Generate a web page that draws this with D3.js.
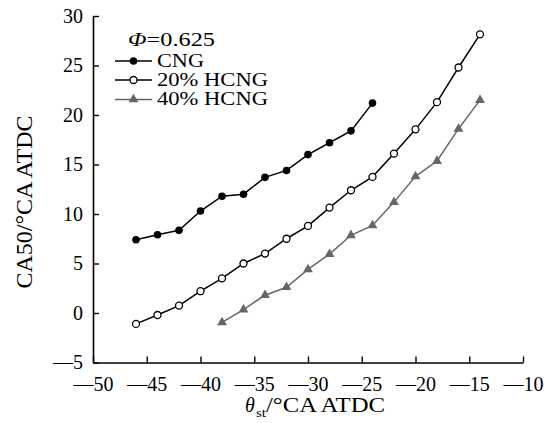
<!DOCTYPE html>
<html><head><meta charset="utf-8">
<script src="https://cdn.jsdelivr.net/npm/d3@7"></script>
<style>body{margin:0;background:#fff}svg{display:block}text{font-family:"Liberation Serif","Times New Roman",serif;fill:#000}</style>
</head><body>
<svg id="c" width="549" height="423"></svg>
<script>
const xCNG = [-46,-44,-42,-40,-38,-36,-34,-32,-30,-28,-26,-24];
const cng  = [7.4,7.9,8.35,10.3,11.8,12.0,13.7,14.4,16.0,17.2,18.4,21.2];
const xH20 = [-46,-44,-42,-40,-38,-36,-34,-32,-30,-28,-26,-24,-22,-20,-18,-16,-14];
const h20  = [-1.1,-0.2,0.75,2.2,3.5,5.0,6.0,7.5,8.8,10.65,12.4,13.75,16.1,18.55,21.3,24.8,28.15];
const xH40 = [-38,-36,-34,-32,-30,-28,-26,-24,-22,-20,-18,-16,-14];
const h40  = [-0.95,0.35,1.8,2.6,4.4,5.95,7.85,8.85,11.2,13.8,15.35,18.6,21.5];
const xTicks = [-50,-45,-40,-35,-30,-25,-20,-15,-10];
const yTicks = [-5,0,5,10,15,20,25,30];
const seriesNames = ["CNG","20% HCNG","40% HCNG"];
const legendTitle = "0.625";

const svg = d3.select("#c");
const x = d3.scaleLinear().domain([-50,-10]).range([93,523]);
const y = d3.scaleLinear().domain([-5,30]).range([362.5,16]);
const fmt = v => v < 0 ? "\u2014" + Math.abs(v) : String(v);

const gx = svg.append("g").attr("transform","translate(0,362.5)")
  .call(d3.axisBottom(x).tickValues(xTicks).tickFormat(fmt).tickSizeInner(-6).tickSizeOuter(0).tickPadding(14));
const gy = svg.append("g").attr("transform","translate(93,0)")
  .call(d3.axisLeft(y).tickValues(yTicks).tickFormat(fmt).tickSizeInner(-6).tickSizeOuter(0).tickPadding(10));
[gx,gy].forEach(g=>{
  g.selectAll("path.domain").attr("stroke","#000").attr("stroke-width",1.6);
  g.selectAll("line").attr("stroke","#000").attr("stroke-width",1.4);
  g.selectAll("text").attr("font-family","Liberation Serif").attr("font-size",20).attr("fill","#000");
});

const line = d3.line().x(d=>x(d[0])).y(d=>y(d[1]));
const s1 = xCNG.map((v,i)=>[v,cng[i]]);
const s2 = xH20.map((v,i)=>[v,h20[i]]);
const s3 = xH40.map((v,i)=>[v,h40[i]]);
const gray = "#666";

svg.append("path").datum(s3).attr("d",line).attr("fill","none").attr("stroke",gray).attr("stroke-width",1.5);
svg.append("path").datum(s2).attr("d",line).attr("fill","none").attr("stroke","#000").attr("stroke-width",1.5);
svg.append("path").datum(s1).attr("d",line).attr("fill","none").attr("stroke","#000").attr("stroke-width",1.5);

const tri = d3.symbol().type(d3.symbolTriangle).size(42);
svg.selectAll(".t").data(s3).join("path").attr("d",tri())
  .attr("transform",d=>`translate(${x(d[0])},${y(d[1])})`).attr("fill",gray);
svg.selectAll(".o").data(s2).join("circle").attr("cx",d=>x(d[0])).attr("cy",d=>y(d[1]))
  .attr("r",3.5).attr("fill","#fff").attr("stroke","#000").attr("stroke-width",1.3);
svg.selectAll(".f").data(s1).join("circle").attr("cx",d=>x(d[0])).attr("cy",d=>y(d[1]))
  .attr("r",3.8).attr("fill","#000");

// legend
const lg = svg.append("g");
const t0 = lg.append("text").attr("x",128).attr("y",45.5).attr("font-size",19);
t0.append("tspan").attr("font-style","italic").text("\u03A6");
t0.append("tspan").text("=" + legendTitle);
t0.attr("textLength",87).attr("lengthAdjust","spacingAndGlyphs");
const rows = [61,80,99.5];
const tw = [47,111,111];
rows.forEach((ry,i)=>{
  const col = i===2 ? gray : "#000";
  lg.append("line").attr("x1",115).attr("x2",152).attr("y1",ry).attr("y2",ry).attr("stroke",col).attr("stroke-width",1.5);
  if(i===0) lg.append("circle").attr("cx",133.5).attr("cy",ry).attr("r",3.8).attr("fill","#000");
  if(i===1) lg.append("circle").attr("cx",133.5).attr("cy",ry).attr("r",3.5).attr("fill","#fff").attr("stroke","#000").attr("stroke-width",1.3);
  if(i===2) lg.append("path").attr("d",tri()).attr("transform",`translate(133.5,${ry})`).attr("fill",gray);
  lg.append("text").attr("x",157).attr("y",ry+5.5).attr("font-size",18)
    .attr("textLength",tw[i]).attr("lengthAdjust","spacingAndGlyphs").text(seriesNames[i]);
});

// axis titles
svg.append("text").attr("transform","translate(31.5,202) rotate(-90)").attr("text-anchor","middle")
  .attr("font-size",24).text("CA50/\u00B0CA ATDC");
svg.append("text").attr("x",245).attr("y",412).attr("font-size",20).attr("font-style","italic").text("\u03B8");
svg.append("text").attr("x",256).attr("y",417).attr("font-size",12).attr("textLength",10).attr("lengthAdjust","spacingAndGlyphs").text("st");
svg.append("text").attr("x",266).attr("y",412).attr("font-size",20).attr("textLength",119).attr("lengthAdjust","spacingAndGlyphs").text("/\u00B0CA ATDC");
</script>
</body></html>
